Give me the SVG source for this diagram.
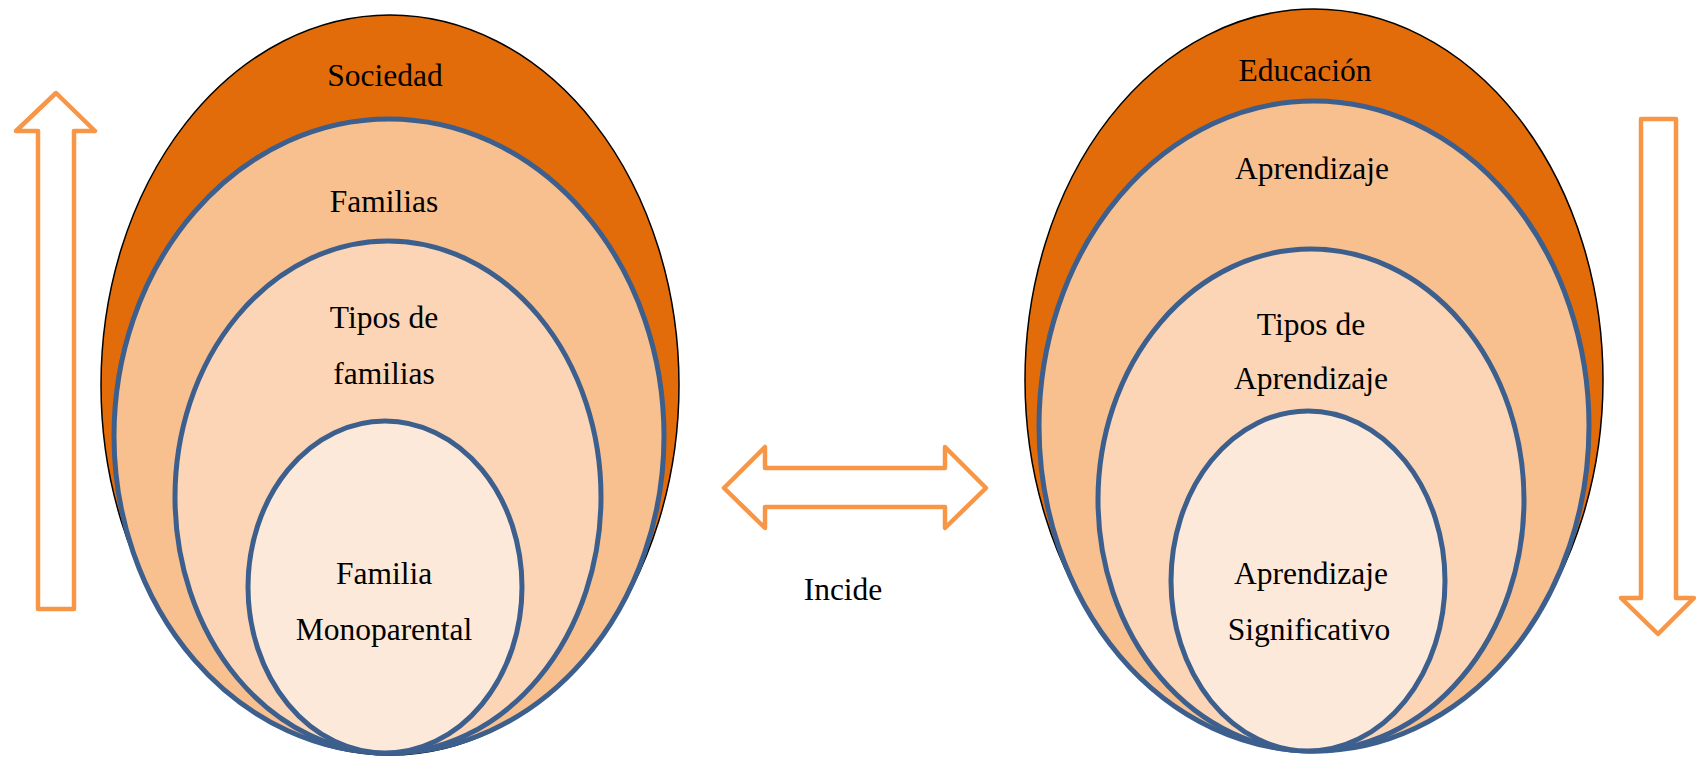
<svg xmlns="http://www.w3.org/2000/svg" width="1696" height="757" viewBox="0 0 1696 757">
<style>
.outer{fill:#E36C0A;stroke:#000;stroke-width:1.5}
.l1{fill:#F9C08F;stroke:#3C5F8E;stroke-width:5}
.l2{fill:#FBD5B5;stroke:#3C5F8E;stroke-width:5}
.l3{fill:#FDE9D9;stroke:#3C5F8E;stroke-width:5}
.arrow{fill:#fff;stroke:#F79646;stroke-width:4.5;stroke-linejoin:round}
text{font-family:"Liberation Serif","Times New Roman",serif;font-size:31.5px;fill:#000;text-anchor:middle}
</style>
<rect width="1696" height="757" fill="#fff"/>
<g id="sociedad"><ellipse class="outer" cx="390" cy="385" rx="289" ry="370"/><text x="385" y="86">Sociedad</text></g>
<g id="familias"><ellipse class="l1" cx="389" cy="436" rx="275" ry="317"/><text x="384" y="212">Familias</text></g>
<g id="tipos-familias"><ellipse class="l2" cx="388" cy="497" rx="213" ry="256"/><text x="384" y="328">Tipos de</text><text x="384" y="384">familias</text></g>
<g id="familia-monoparental"><ellipse class="l3" cx="385" cy="587" rx="137" ry="166"/><text x="384" y="584">Familia</text><text x="384" y="640">Monoparental</text></g>
<g id="educacion"><ellipse class="outer" cx="1314" cy="380" rx="289" ry="371"/><text x="1305" y="81">Educación</text></g>
<g id="aprendizaje"><ellipse class="l1" cx="1314" cy="426" rx="275" ry="325"/><text x="1312" y="179">Aprendizaje</text></g>
<g id="tipos-aprendizaje"><ellipse class="l2" cx="1311" cy="500" rx="213" ry="251"/><text x="1311" y="335">Tipos de</text><text x="1311" y="389">Aprendizaje</text></g>
<g id="aprendizaje-significativo"><ellipse class="l3" cx="1308" cy="581" rx="137" ry="170"/><text x="1311" y="584">Aprendizaje</text><text x="1309" y="640">Significativo</text></g>
<g id="connectors">
<path class="arrow" d="M56,93 L95,131 L74,131 L74,609 L38,609 L38,131 L16,131 Z"/>
<path class="arrow" d="M1658,634 L1694,598 L1676,598 L1676,119 L1641,119 L1641,598 L1621,598 Z"/>
<path class="arrow" d="M724,488 L765,447 L765,468 L945,468 L945,447 L986,488 L945,528 L945,507 L765,507 L765,528 Z"/>
<text x="843" y="600">Incide</text>
</g>
</svg>
